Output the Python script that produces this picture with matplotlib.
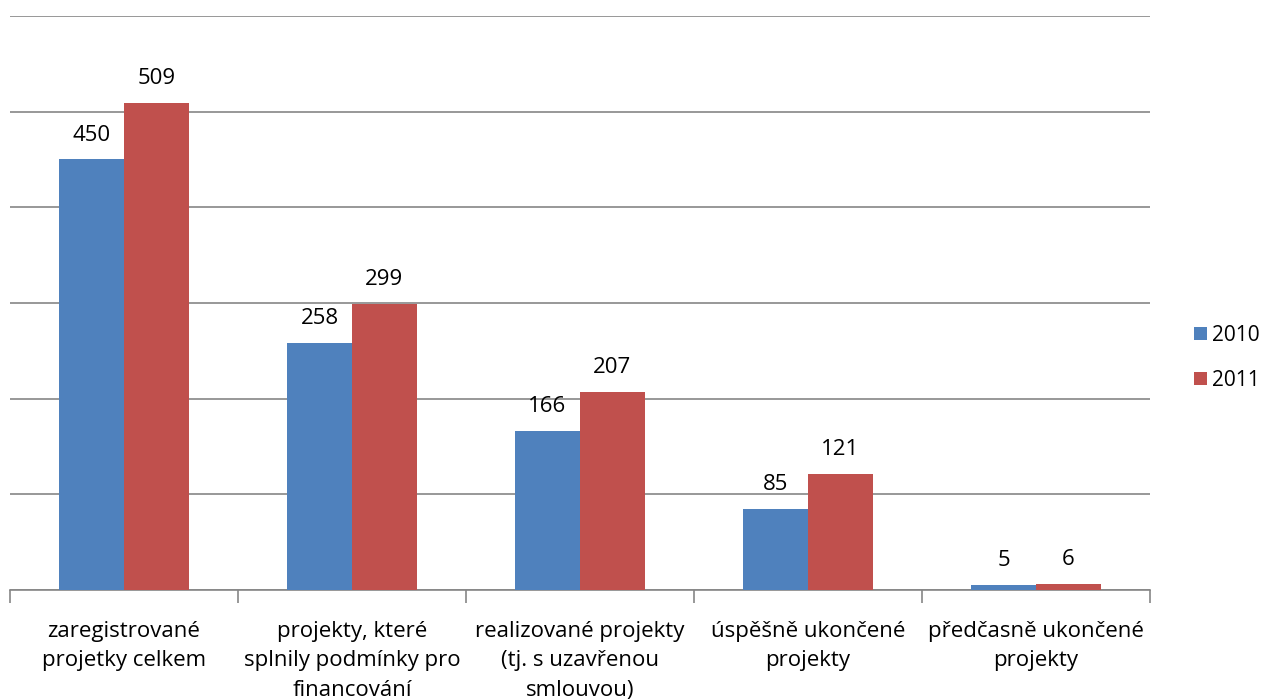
import matplotlib.pyplot as plt
import numpy as np

categories = ["zaregistrované\nprojetky celkem",
              "projekty, které\nsplnily podmínky pro\nfinancování",
              "realizované projekty\n(tj. s uzavřenou\nsmlouvou)",
              "úspěšně ukončené\nprojekty",
              "předčasně ukončené\nprojekty"]
values_2010 = [450, 258, 166, 85, 5]
values_2011 = [509, 299, 207, 121, 6]
series_names = ["2010", "2011"]

plt.rcParams['font.family'] = ['Open Sans', 'DejaVu Sans']

fig = plt.figure(figsize=(12.7, 7), dpi=100)
ax = fig.add_axes([10 / 1270, 1 - 590 / 700, 1140 / 1270, 574 / 700])

x = np.arange(len(categories))
w = 0.285
b1 = ax.bar(x - w / 2, values_2010, w, color='#4F81BD', label=series_names[0], zorder=3)
b2 = ax.bar(x + w / 2, values_2011, w, color='#C0504D', label=series_names[1], zorder=3)

for bars in (b1, b2):
    for bar in bars:
        ax.annotate(str(int(bar.get_height())),
                    (bar.get_x() + bar.get_width() / 2, bar.get_height()),
                    xytext=(0, 10), textcoords='offset points',
                    ha='center', va='bottom', fontsize=16)

ax.set_xlim(-0.5, len(categories) - 0.5)
ax.set_ylim(0, 600)
ax.set_yticks(np.arange(0, 601, 100))
ax.set_yticklabels([])
ax.tick_params(axis='y', length=0)
ax.grid(axis='y', color='#868686', linewidth=1.2, zorder=0)

ax.set_xticks(np.arange(-0.5, len(categories), 1))
ax.set_xticklabels([])
ax.set_xticks(x, minor=True)
ax.set_xticklabels(categories, minor=True, fontsize=16, linespacing=1.55)
ax.tick_params(axis='x', which='major', length=9, color='#868686', width=1.2)
ax.tick_params(axis='x', which='minor', length=0, pad=22)

for s in ['top', 'right', 'left']:
    ax.spines[s].set_visible(False)
ax.spines['bottom'].set_color('#868686')
ax.spines['bottom'].set_linewidth(1.2)

ax.legend(loc='center left', bbox_to_anchor=(1.039, 0.405),
          frameon=False, fontsize=15, handlelength=0.6, handleheight=0.6,
          handletextpad=0.25, labelspacing=1.15, borderpad=0, borderaxespad=0)

fig.savefig("out.png")
